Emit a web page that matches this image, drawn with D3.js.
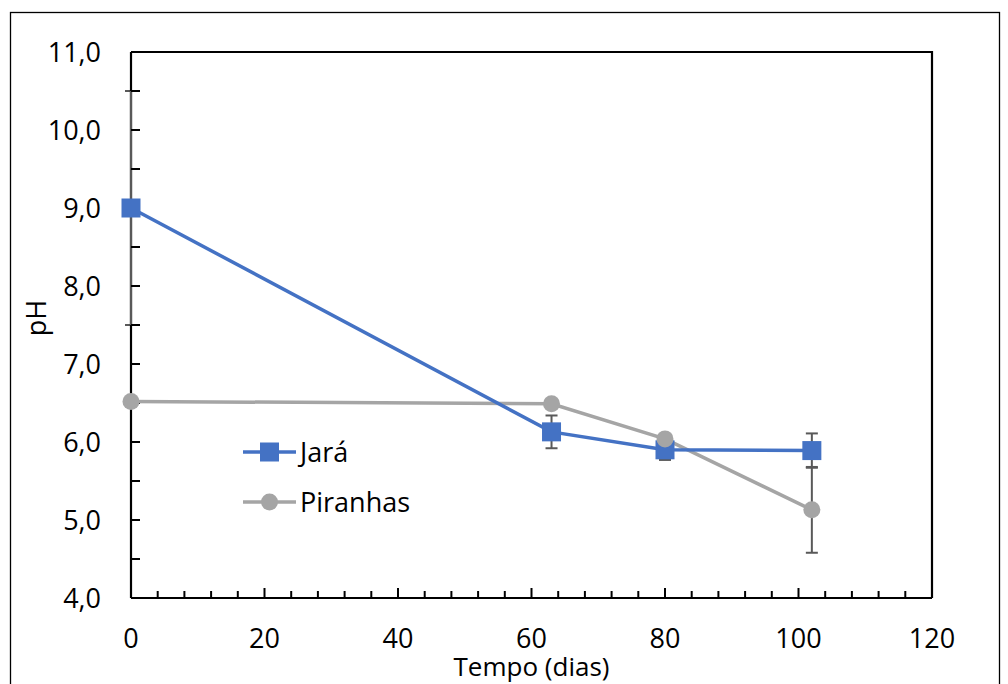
<!DOCTYPE html>
<html><head><meta charset="utf-8">
<script src="https://cdn.jsdelivr.net/npm/d3@7"></script>
<style>body{margin:0;background:#fff}svg{display:block}text{font-family:"Open Sans","Liberation Sans",sans-serif;fill:#000}</style>
</head><body>
<svg id="c" width="1008" height="684"></svg>
<script>
const days = [0, 63, 80, 102];
const jara = [9.0, 6.13, 5.90, 5.89];
const jaraErr = [1.5, 0.21, 0.13, 0.22];
const piranhas = [6.52, 6.49, 6.04, 5.13];
const piranhasErr = [0.03, 0.05, 0.05, 0.55];
const xTicks = [0, 20, 40, 60, 80, 100, 120];
const yTicks = [4, 5, 6, 7, 8, 9, 10, 11];
const seriesNames = ["Jará", "Piranhas"];

const svg = d3.select("#c");
const L = 131, R = 932, T = 52, B = 598;
const FS = 27;
const x = d3.scaleLinear().domain([0, 120]).range([L, R]);
const y = d3.scaleLinear().domain([4, 11]).range([B, T]);
const fmt = v => d3.format(".1f")(v).replace(".", ",");

// outer frame
svg.append("rect").attr("x", 10.5).attr("y", 12.5).attr("width", 989).attr("height", 700)
  .attr("fill", "none").attr("stroke", "#000").attr("stroke-width", 1.3);

// plot border top/right
svg.append("path").attr("d", `M${L},${T}H${R}V${B}`).attr("fill", "none").attr("stroke", "#000").attr("stroke-width", 2.2);

// error bars
function errBars(vals, errs, color) {
  const g = svg.append("g").attr("stroke", color).attr("stroke-width", 2);
  days.forEach((d, i) => {
    const cx = x(d), y1 = y(vals[i] + errs[i]), y2 = y(vals[i] - errs[i]);
    g.append("line").attr("x1", cx).attr("x2", cx).attr("y1", y1).attr("y2", y2);
    g.append("line").attr("x1", cx - 6).attr("x2", cx + 6).attr("y1", y1).attr("y2", y1);
    g.append("line").attr("x1", cx - 6).attr("x2", cx + 6).attr("y1", y2).attr("y2", y2);
  });
}
errBars(jara, jaraErr, "#595959");
errBars(piranhas, piranhasErr, "#595959");

// axes lines
const ga = svg.append("g");
ga.append("line").attr("x1", L).attr("x2", L).attr("y1", T).attr("y2", B).attr("stroke", "#000").attr("stroke-width", 2.2);
ga.append("line").attr("x1", L).attr("x2", L).attr("y1", y(jara[0] + jaraErr[0])).attr("y2", y(jara[0] - jaraErr[0])).attr("stroke", "#595959").attr("stroke-width", 2.2);
ga.append("line").attr("x1", L).attr("x2", R).attr("y1", B).attr("y2", B).attr("stroke", "#000").attr("stroke-width", 2.2);

// y ticks (every 0.5, inward)
d3.range(4.5, 11, 0.5).forEach(v => {
  svg.append("line").attr("x1", L).attr("x2", L + 9).attr("y1", y(v)).attr("y2", y(v)).attr("stroke", "#000").attr("stroke-width", 2);
});
// x ticks every 4, inward
d3.range(4, 120, 4).forEach(v => {
  const major = v % 20 === 0;
  svg.append("line").attr("x1", x(v)).attr("x2", x(v)).attr("y1", B).attr("y2", B - (major ? 10 : 7)).attr("stroke", "#000").attr("stroke-width", 2);
});

// tick labels
yTicks.forEach(v => {
  svg.append("text").attr("x", 101).attr("y", y(v)).attr("dy", "0.36em").attr("text-anchor", "end")
    .attr("font-size", FS).text(fmt(v));
});
xTicks.forEach(v => {
  svg.append("text").attr("x", x(v)).attr("y", 648).attr("text-anchor", "middle").attr("font-size", FS).text(v);
});

// axis titles
svg.append("text").attr("transform", "translate(46,318) rotate(-90)").attr("text-anchor", "middle").attr("font-size", FS).text("pH");
svg.append("text").attr("x", (L + R) / 2).attr("y", 676).attr("text-anchor", "middle").attr("font-size", 26).text("Tempo (dias)");

// lines
const line = d3.line().x((d, i) => x(days[i])).y(d => y(d));
svg.append("path").datum(piranhas).attr("d", line).attr("fill", "none").attr("stroke", "#A5A5A5").attr("stroke-width", 3.5);
svg.append("path").datum(jara).attr("d", line).attr("fill", "none").attr("stroke", "#4472C4").attr("stroke-width", 3.5);

// markers
svg.selectAll(".sq").data(jara).enter().append("rect")
  .attr("x", (d, i) => x(days[i]) - 9.5).attr("y", d => y(d) - 9.5).attr("width", 19).attr("height", 19)
  .attr("fill", "#4472C4");
svg.selectAll(".ci").data(piranhas).enter().append("circle")
  .attr("cx", (d, i) => x(days[i])).attr("cy", d => y(d)).attr("r", 8.5).attr("fill", "#A5A5A5");

// legend
const leg = [{name: seriesNames[0], color: "#4472C4", shape: "sq", ly: 452}, {name: seriesNames[1], color: "#A5A5A5", shape: "ci", ly: 502}];
leg.forEach(l => {
  svg.append("line").attr("x1", 243).attr("x2", 296).attr("y1", l.ly).attr("y2", l.ly).attr("stroke", l.color).attr("stroke-width", 3.5);
  if (l.shape === "sq") svg.append("rect").attr("x", 260).attr("y", l.ly - 9.5).attr("width", 19).attr("height", 19).attr("fill", l.color);
  else svg.append("circle").attr("cx", 269.5).attr("cy", l.ly).attr("r", 8.5).attr("fill", l.color);
  svg.append("text").attr("x", 300).attr("y", l.ly).attr("dy", "0.36em").attr("font-size", FS).text(l.name);
});
</script>
</body></html>
